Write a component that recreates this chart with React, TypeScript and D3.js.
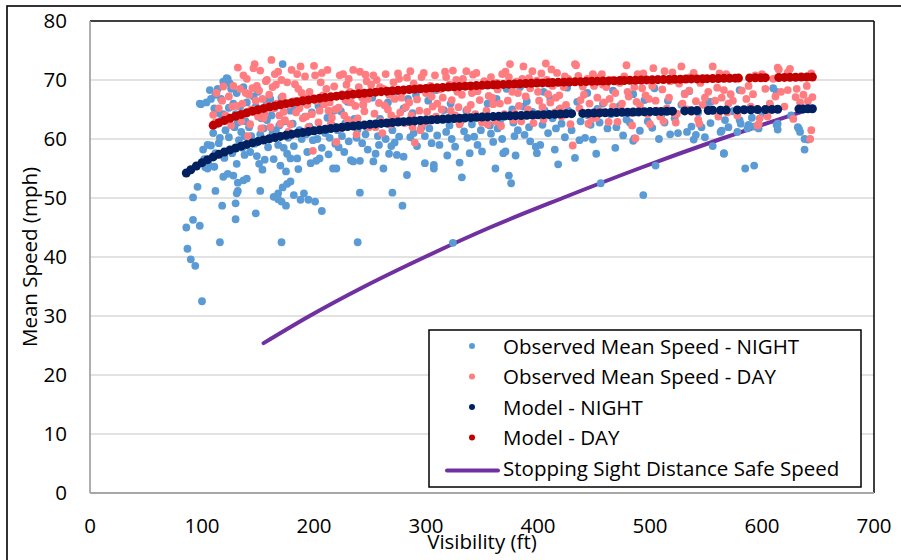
import React from 'react';
import * as d3 from 'd3';

const xTicks = [0, 100, 200, 300, 400, 500, 600, 700];
const yTicks = [0, 10, 20, 30, 40, 50, 60, 70, 80];

const legendLabels = [
  'Observed Mean Speed - NIGHT',
  'Observed Mean Speed - DAY',
  'Model - NIGHT',
  'Model - DAY',
  'Stopping Sight Distance Safe Speed',
];

// Observed mean speed at night: [visibility ft, mph]
const nightObserved = [
  [86,45.0],[87,41.4],[90,39.6],[94,38.5],[92,46.3],[98,45.3],[92,50.1],[96,51.9],[100,32.5],
  [116,42.5],[171,42.5],[239,42.5],[324,42.4],
  [112,51.2],[118,48.7],[130,46.4],[130,49.1],[131,50.8],[132,51.2],[148,47.4],[152,51.2],[132,52.6],[137,53.0],[140,53.3],[119,53.6],[123,54.1],[128,53.8],
  [164,50.2],[168,49.8],[171,49.4],[175,48.7],[168,50.8],[172,51.8],[176,52.4],[179,52.8],[182,50.5],[188,49.7],[191,50.8],[195,49.7],[201,49.4],[207,47.8],[241,50.9],[270,50.9],[279,48.7],[283,53.9],
  [111,55.3],[105,55.0],[102,56.6],[108,58.9],[115,59.3],
  [164,56.6],[179,56.7],[185,56.7],[197,55.9],[205,56.7],[220,55.0],[235,56.2],[241,56.3],[253,56.2],[255,57.5],[262,55.0],[267,57.5],[274,57.3],[280,57.0],[299,55.9],[307,55.6],[307,55.0],[312,59.0],
  [330,56.0],[332,53.5],[339,57.6],[362,55.0],[374,53.8],[376,52.5],[369,57.6],[371,57.9],[380,57.2],[398,58.7],[399,57.6],[402,59.0],[418,55.7],[415,58.2],[433,56.8],[442,60.2],[449,59.9],[452,57.5],[469,58.5],[456,52.5],[494,50.5],[505,55.5],[508,60.0],[485,59.7],[486,60.1],[566,57.5],[585,55.0],[593,55.5],[638,58.2],[641,59.9],[633,61.7],
  [101,58.2],[105,59.0],[112,57.6],[110,61.0],[113,62.5],[118,63.4],[119,64.2],[111,65.2],[115,64.4],[114,68.5],[119,69.7],[123,70.2],[125,69.4],[122,70.3],[117,66.8],[108,66.8],[112,67.5],[103,55.2],[106,55.6],[116,60.2],[120,56.8],[99,65.9],[104,66.2],[107,68.3],[98,66.0],
  [121,61.5],[124,60.3],[126,68.5],[128,66.0],[130,64.2],[132,62.8],[134,65.5],[136,58.5],[138,57.3],[127,57.6],[133,59.8],[139,63.0],[131,67.8],[137,68.8],[129,62.0],[135,61.2],[140,66.2],[124,65.3],[131,55.8],[138,60.5],
  [142,62.0],[145,64.8],[147,59.2],[149,57.1],[151,55.8],[153,63.5],[155,61.8],[157,66.5],[159,58.6],[144,60.5],[150,68.0],[156,56.5],[148,65.5],[152,60.8],[158,63.2],[143,57.8],[154,54.8],[146,67.2],
  [162,64.0],[166,61.5],[168,59.0],[170,55.5],[172,72.7],[174,63.0],[176,57.5],[161,66.8],[165,65.3],[169,62.3],[173,58.5],[177,60.2],[163,61.0],[171,67.0],[175,54.5],[179,64.8],
  [182,58.8],[187,61.5],[189,60.0],[192,63.8],[194,57.8],[199,59.8],[183,65.0],[190,66.2],[196,62.1],[186,54.9],[193,60.8],[198,64.5],[181,62.6],
  [202,56.3],[207,58.5],[210,61.0],[212,63.6],[214,60.2],[217,55.0],[219,59.2],[204,65.6],[209,66.7],[216,62.4],[203,60.0],[213,57.4],[218,64.8],
  [222,58.6],[225,60.5],[228,62.7],[231,59.6],[233,56.4],[238,60.2],[224,64.7],[230,66.3],[236,63.4],[227,57.8],[239,61.6],[221,61.5],
  [243,59.3],[246,60.8],[248,58.2],[250,62.5],[257,60.5],[259,63.4],[244,65.8],[252,67.0],[247,62.0],[258,59.0],
  [264,60.0],[270,61.5],[272,59.4],[277,63.0],[266,66.2],[273,68.0],[276,60.4],[263,62.7],[269,58.8],[280,65.2],
  [286,60.3],[289,61.0],[292,58.8],[295,63.3],[284,66.8],[291,67.5],[296,62.0],[288,64.4],[299,60.5],
  [303,61.8],[310,60.6],[315,63.2],[318,61.2],[302,66.5],[309,68.3],[316,64.9],[305,59.3],[319,57.2],
  [321,62.3],[323,60.0],[326,58.7],[334,61.3],[336,64.8],[322,66.0],[328,68.5],[337,60.2],[331,63.0],
  [341,62.5],[343,60.4],[346,59.0],[349,61.5],[352,63.9],[355,66.0],[358,60.9],[344,68.2],[350,57.9],[357,62.3],[360,59.5],
  [364,61.8],[366,63.0],[368,60.0],[378,62.8],[363,66.8],[372,68.5],[377,65.0],[379,60.5],
  [382,61.5],[385,63.6],[388,60.7],[390,66.4],[392,62.0],[395,64.6],[384,68.8],[393,59.6],[387,65.5],
  [404,62.4],[406,64.8],[409,61.0],[411,66.8],[413,63.5],[405,68.0],[416,61.8],[419,65.0],
  [421,62.6],[424,60.3],[427,64.8],[430,61.5],[435,66.3],[438,63.0],[426,68.7],[437,59.8],
  [445,64.0],[447,62.4],[455,62.8],[458,66.0],[444,67.8],[453,65.1],
  [462,61.8],[465,64.2],[470,62.0],[473,65.6],[476,60.6],[479,63.3],[467,68.2],
  [482,62.8],[488,64.5],[491,61.4],[495,66.6],[498,63.0],[485,67.6],
  [502,61.9],[510,64.0],[513,62.8],[516,66.5],[518,60.8],[504,68.6],
  [522,63.5],[525,61.0],[528,65.8],[531,67.7],[533,61.2],[535,68.1],[537,62.1],[539,59.9],[541,60.7],
  [543,64.5],[546,62.0],[549,60.3],[552,66.2],[554,62.7],[554,66.3],[556,58.8],
  [563,61.2],[564,61.4],[566,57.6],[567,63.2],[570,62.0],[574,64.7],[578,61.2],[580,68.3],[580,63.2],
  [581,62.6],[587,61.8],[588,62.4],[591,63.6],[593,62.1],[597,61.8],[600,64.6],
  [604,64.2],[607,65.6],[610,68.6],[613,68.0],[613,62.4],[614,61.6],[614,62.6],
  [632,62.0],[634,61.2],[638,60.0],[626,64.0],[644,70.6],
];

// Observed mean speed during the day: [visibility ft, mph]
const dayObserved = [
  [110,64.1],[115,65.2],[112,62.8],[118,66.5],[121,64.0],[124,67.2],[127,65.5],[128,69.0],[113,67.8],[119,68.9],[126,62.3],
  [132,72.1],[134,68.5],[136,66.0],[138,64.2],[140,70.2],[142,67.5],[144,65.0],[146,72.0],[147,72.7],[149,69.0],[131,65.6],[135,63.0],[139,67.8],[143,62.5],[148,66.5],[150,63.8],[137,70.8],[145,68.6],[141,60.5],
  [152,71.6],[154,66.8],[156,64.2],[158,70.0],[160,67.5],[162,73.4],[164,65.2],[166,69.2],[168,71.4],[170,62.6],[151,68.2],[155,63.5],[159,65.6],[163,68.8],[167,66.0],[169,64.0],[153,61.8],[157,69.8],[161,62.0],[165,71.0],
  [172,67.2],[174,63.2],[176,69.6],[178,65.8],[180,71.7],[182,66.4],[184,64.5],[186,68.5],[188,72.3],[190,63.5],[171,70.0],[175,66.0],[179,62.5],[183,69.3],[187,65.2],[189,67.8],[173,64.6],[185,71.0],[177,61.2],
  [192,70.6],[194,65.8],[196,68.0],[198,64.2],[199,58.0],[200,72.4],[202,66.5],[204,62.8],[206,69.6],[208,67.4],[191,67.0],[195,62.0],[201,70.8],[205,64.8],[209,65.9],[193,63.8],[207,71.2],[197,66.9],
  [212,71.7],[214,66.2],[216,63.6],[218,68.9],[220,59.5],[222,65.3],[223,70.8],[225,67.6],[227,64.0],[229,69.2],[211,68.5],[215,62.5],[219,65.0],[224,61.8],[228,66.6],[213,64.8],[226,71.0],[230,63.3],
  [232,68.0],[235,71.7],[237,65.6],[239,63.5],[241,71.4],[243,67.0],[245,64.7],[247,69.8],[249,62.0],[233,66.2],[236,62.8],[240,68.8],[244,65.9],[248,66.8],[231,70.2],[246,70.9],[238,60.8],
  [252,67.8],[254,64.3],[256,70.0],[258,66.1],[260,63.0],[262,68.5],[264,71.0],[266,65.0],[268,62.4],[251,69.2],[255,62.0],[259,68.8],[263,65.7],[267,67.5],[253,70.8],[269,64.0],[261,61.0],
  [272,66.8],[275,71.1],[277,64.5],[279,68.0],[281,62.7],[283,70.4],[285,66.2],[287,64.0],[289,69.4],[290,59.4],[271,69.6],[274,63.4],[278,67.0],[282,65.4],[286,71.5],[288,62.0],[276,70.2],
  [292,66.7],[294,64.8],[296,70.5],[298,71.2],[300,67.8],[302,63.0],[304,69.0],[306,65.5],[308,70.8],[310,66.0],[293,68.6],[297,62.6],[301,64.6],[305,67.2],[309,63.8],[295,61.5],
  [312,68.4],[314,65.0],[317,71.4],[319,63.5],[321,69.2],[323,66.6],[324,71.6],[326,64.0],[328,68.0],[330,62.5],[315,67.0],[318,70.5],[322,64.8],[327,70.0],[329,65.4],
  [332,67.5],[334,63.6],[336,71.5],[338,69.0],[340,65.8],[342,70.9],[344,64.2],[346,68.1],[348,66.6],[350,62.8],[333,70.2],[337,65.0],[341,67.8],[345,71.2],[349,63.5],
  [352,69.8],[354,64.8],[356,67.3],[358,70.5],[360,65.9],[362,63.0],[364,68.4],[366,66.0],[368,71.0],[370,64.2],[355,62.5],[359,67.0],[363,69.5],[367,62.2],
  [371,71.4],[373,66.5],[375,72.7],[377,68.0],[379,64.4],[381,69.7],[383,65.6],[385,63.0],[387,72.3],[389,67.2],[374,70.5],[378,63.2],[382,67.8],[386,70.2],
  [391,65.0],[393,68.6],[395,71.5],[397,64.0],[399,69.9],[401,66.5],[403,71.1],[405,63.3],[407,72.8],[409,67.6],[392,70.3],[396,62.7],[400,68.0],[404,65.4],[408,70.0],
  [411,66.2],[413,69.0],[415,64.5],[417,71.2],[419,67.4],[421,63.8],[423,68.8],[425,65.8],[427,70.2],[429,62.5],[412,71.8],[416,67.0],[420,65.2],[424,70.6],
  [431,58.9],[433,72.7],[434,72.5],[436,70.7],[438,66.6],[440,68.9],[442,64.3],[444,70.2],[446,66.0],[448,63.4],[450,69.0],[437,65.2],[441,67.5],[445,62.6],[449,71.0],
  [451,70.5],[453,67.0],[455,64.8],[457,71.0],[459,66.2],[461,68.8],[463,62.9],[465,70.0],[467,65.5],[469,67.8],[452,63.6],[458,69.2],[464,66.8],
  [471,62.9],[473,69.5],[475,66.0],[477,70.6],[479,72.5],[481,67.2],[483,64.4],[484,62.3],[486,68.8],[487,60.1],[489,71.0],[474,65.0],[480,68.0],[488,66.3],
  [491,65.7],[494,71.1],[496,67.4],[498,64.2],[500,62.5],[502,69.0],[503,72.0],[505,66.5],[507,70.2],[509,63.8],[493,68.6],[499,66.8],[506,64.8],
  [511,68.4],[513,71.5],[515,65.2],[517,67.0],[520,71.3],[522,64.3],[524,64.3],[526,69.4],[528,72.3],[529,66.0],[512,63.0],[518,69.8],[523,62.8],
  [531,67.6],[533,65.0],[535,68.2],[537,64.6],[539,71.2],[541,66.4],[543,63.3],[545,69.5],[547,65.8],[549,67.0],[536,70.5],[544,62.6],
  [552,68.0],[556,72.3],[558,66.5],[560,68.7],[562,71.1],[564,67.0],[566,68.3],[568,71.0],[570,66.0],[553,65.0],[561,63.8],[569,64.5],
  [572,67.6],[574,66.5],[578,64.0],[582,68.2],[586,66.8],[590,65.5],[594,70.8],[596,62.3],[598,63.5],[600,71.0],[598,70.5],[597,62.5],[592,67.6],[588,69.0],
  [603,68.5],[607,66.0],[610,70.2],[614,72.1],[615,71.8],[617,68.0],[620,65.5],[605,63.8],[612,67.2],
  [623,71.3],[623,68.3],[625,71.9],[628,63.4],[630,67.1],[631,68.5],[634,66.2],[637,67.5],[640,69.0],[641,66.4],[643,60.0],[644,71.1],[645,67.1],[644,61.5],
];

// Model predictions: [visibility ft, mph]
const modelNight = [
  [86,54.23],[90,54.79],[95,55.42],[100,55.99],[105,56.50],[110,56.97],[115,57.40],[120,57.79],[125,58.15],[130,58.48],
  [135,58.79],[140,59.08],[145,59.34],[150,59.59],[155,59.83],[160,60.04],[165,60.25],[170,60.44],[175,60.62],[180,60.79],
  [185,60.96],[190,61.11],[195,61.26],[200,61.39],[205,61.53],[210,61.65],[215,61.77],[220,61.89],[225,62.00],[230,62.10],
  [235,62.20],[240,62.30],[245,62.39],[250,62.48],[255,62.56],[260,62.64],[265,62.72],[270,62.80],[275,62.87],[280,62.94],
  [285,63.01],[290,63.07],[295,63.14],[300,63.20],[305,63.26],[310,63.31],[315,63.37],[320,63.42],[325,63.47],[330,63.52],
  [335,63.57],[340,63.62],[345,63.67],[350,63.71],[355,63.75],[360,63.80],[365,63.84],[370,63.88],[375,63.92],[380,63.96],
  [385,63.99],[390,64.03],[395,64.06],[400,64.10],[405,64.13],[410,64.16],[415,64.20],[420,64.23],[425,64.26],[430,64.29],
  [440,64.34],[445,64.37],[450,64.40],[455,64.42],[460,64.45],[465,64.48],[470,64.50],[475,64.52],[480,64.55],[485,64.57],
  [490,64.59],[495,64.62],[500,64.64],[505,64.66],[510,64.68],[515,64.70],[520,64.72],[531,64.76],[537,64.78],[542,64.81],
  [552,64.84],[556,64.86],[563,64.88],[568,64.90],[578,64.93],[584,64.95],[590,64.96],[596,64.98],[603,65.00],[609,65.02],
  [614,65.04],[633,65.09],[637,65.10],[641,65.11],[645,65.12],
];

const modelDay = [
  [110,62.32],[115,62.75],[120,63.14],[125,63.50],[130,63.84],[135,64.15],[140,64.44],[145,64.70],[150,64.95],[155,65.19],
  [160,65.41],[165,65.61],[170,65.81],[175,65.99],[180,66.16],[185,66.32],[190,66.48],[195,66.63],[200,66.76],[205,66.90],
  [210,67.02],[215,67.14],[220,67.26],[225,67.37],[230,67.47],[235,67.57],[240,67.67],[245,67.76],[250,67.85],[255,67.94],
  [260,68.02],[265,68.10],[270,68.17],[275,68.25],[280,68.32],[285,68.39],[290,68.45],[295,68.52],[300,68.58],[305,68.64],
  [310,68.69],[315,68.75],[320,68.80],[325,68.86],[330,68.91],[335,68.96],[340,69.00],[345,69.05],[350,69.09],[355,69.14],
  [360,69.18],[364,69.21],[369,69.25],[374,69.29],[379,69.33],[384,69.37],[389,69.41],[394,69.44],[399,69.48],[404,69.51],
  [409,69.54],[413,69.57],[418,69.60],[423,69.63],[428,69.66],[433,69.69],[438,69.72],[443,69.75],[448,69.77],[453,69.80],
  [458,69.83],[463,69.85],[468,69.88],[473,69.90],[477,69.92],[482,69.94],[487,69.97],[492,69.99],[497,70.01],[502,70.03],
  [507,70.06],[512,70.08],[517,70.10],[522,70.12],[527,70.14],[532,70.16],[537,70.18],[542,70.19],[547,70.21],[551,70.23],
  [556,70.24],[561,70.26],[566,70.28],[571,70.30],[576,70.31],[579,70.32],[589,70.35],[594,70.37],[599,70.38],[603,70.40],
  [615,70.43],[620,70.44],[625,70.46],[630,70.47],[635,70.49],[640,70.50],[645,70.51],
];

// Stopping sight distance safe speed: [visibility ft, mph]
const ssdCurve = [
  [155,25.4],[196,30],[245,35],[299,40],[357,45],[422,50],[490,55],[563,60],[645,65.2],
];

const COLORS = {
  nightObs: '#5B9BD5',
  dayObs: '#FF7C80',
  nightModel: '#002060',
  dayModel: '#C00000',
  ssd: '#7030A0',
};

export default function App() {
  const W = 901;
  const H = 560;
  const left = 90, right = 874, top = 21, bottom = 493;
  const x = d3.scaleLinear().domain([0, 700]).range([left, right]);
  const y = d3.scaleLinear().domain([0, 80]).range([bottom, top]);
  const font = "'Open Sans', 'DejaVu Sans', sans-serif";
  const fs = 20.5;

  const line = d3
    .line<number[]>()
    .x((d) => x(d[0]))
    .y((d) => y(d[1]))
    .curve(d3.curveMonotoneX);

  const legendColors = [COLORS.nightObs, COLORS.dayObs, COLORS.nightModel, COLORS.dayModel, COLORS.ssd];
  const legendBaselines = [353.5, 384, 414.5, 445, 475.5];

  return (
    <svg
      width={W}
      height={H}
      style={{ position: 'absolute', left: 0, top: 0, background: '#fff' }}
      fontFamily={font}
    >
      <rect x={0} y={0} width={W} height={H} fill="#fff" />
      <rect x={7} y={6} width={W + 10} height={H + 10} fill="none" stroke="#000" strokeWidth={1.6} />

      {/* gridlines */}
      {yTicks.filter((t) => t > 0 && t < 80).map((t) => (
        <line key={'g' + t} x1={left} x2={right} y1={y(t)} y2={y(t)} stroke="#d9d9d9" strokeWidth={1.5} />
      ))}

      {/* plot border */}
      <line x1={left} x2={right} y1={top} y2={top} stroke="#000" strokeWidth={1.5} />
      <line x1={right} x2={right} y1={top} y2={bottom} stroke="#000" strokeWidth={1.5} />
      <line x1={left} x2={left} y1={top} y2={bottom} stroke="#a6a6a6" strokeWidth={1.8} />
      <line x1={left} x2={right} y1={bottom} y2={bottom} stroke="#a6a6a6" strokeWidth={1.8} />

      {/* y tick labels */}
      {yTicks.map((t) => (
        <text key={'yt' + t} x={67} y={y(t)} dy="0.36em" textAnchor="end" fontSize={fs} fill="#000">
          {t}
        </text>
      ))}
      {/* x tick labels */}
      {xTicks.map((t) => (
        <text key={'xt' + t} x={x(t)} y={533} textAnchor="middle" fontSize={fs} fill="#000">
          {t}
        </text>
      ))}

      {/* axis titles */}
      <text x={(left + right) / 2} y={549} textAnchor="middle" fontSize={fs} fill="#000">
        Visibility (ft)
      </text>
      <text
        transform={`translate(37,${(top + bottom) / 2}) rotate(-90)`}
        textAnchor="middle"
        fontSize={fs}
        fill="#000"
      >
        Mean Speed (mph)
      </text>

      {/* SSD curve */}
      <path d={line(ssdCurve) || ''} fill="none" stroke={COLORS.ssd} strokeWidth={4} strokeLinecap="round" />

      {/* observed */}
      <g fill={COLORS.nightObs}>
        {nightObserved.map((d, i) => (
          <circle key={'n' + i} cx={x(d[0])} cy={y(d[1])} r={3.9} />
        ))}
      </g>
      <g fill={COLORS.dayObs}>
        {dayObserved.map((d, i) => (
          <circle key={'d' + i} cx={x(d[0])} cy={y(d[1])} r={3.9} />
        ))}
      </g>

      {/* models */}
      <g fill={COLORS.nightModel}>
        {modelNight.map((d, i) => (
          <circle key={'mn' + i} cx={x(d[0])} cy={y(d[1])} r={4.5} />
        ))}
      </g>
      <g fill={COLORS.dayModel}>
        {modelDay.map((d, i) => (
          <circle key={'md' + i} cx={x(d[0])} cy={y(d[1])} r={4.5} />
        ))}
      </g>

      {/* legend */}
      <rect x={429} y={330} width={432} height={157} fill="#fff" stroke="#000" strokeWidth={1.5} />
      {legendLabels.map((lab, i) => (
        <g key={'l' + i}>
          {i < 4 ? (
            <circle cx={472} cy={legendBaselines[i] - 7.5} r={3} fill={legendColors[i]} />
          ) : (
            <line
              x1={447}
              x2={498}
              y1={legendBaselines[i] - 5}
              y2={legendBaselines[i] - 5}
              stroke={legendColors[i]}
              strokeWidth={4}
              strokeLinecap="round"
            />
          )}
          <text x={503} y={legendBaselines[i]} fontSize={fs} fill="#000">
            {lab}
          </text>
        </g>
      ))}
    </svg>
  );
}
